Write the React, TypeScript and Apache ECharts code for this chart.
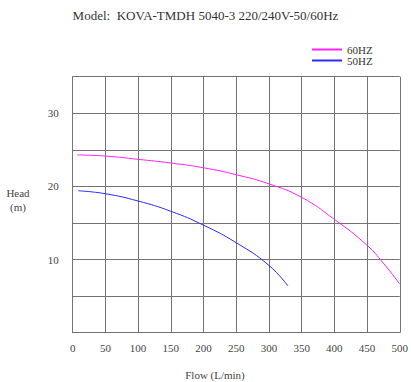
import React, { useEffect, useRef } from "react";
import * as echarts from "echarts";

const titleText = "Model:  KOVA-TMDH 5040-3 220/240V-50/60Hz";
const yAxisTitle = "Head\n(m)";
const xAxisTitle = "Flow (L/min)";
const seriesNames = ["60HZ", "50HZ"];
const flow60 = [7, 50, 100, 150, 200, 250, 300, 350, 400, 450, 475, 500];
const head60 = [24.3, 24.15, 23.7, 23.2, 22.55, 21.6, 20.35, 18.5, 15.5, 11.95, 9.5, 6.65];
const flow50 = [8.5, 50, 100, 150, 200, 250, 300, 329];
const head50 = [19.4, 19.0, 18.0, 16.6, 14.7, 12.3, 9.2, 6.4];
const yLabelsShown = [10, 20, 30];

const FONT = "'Liberation Serif', 'DejaVu Serif', serif";

export default function App() {
  const ref = useRef<HTMLDivElement>(null);
  useEffect(() => {
    if (!ref.current) return;
    const chart = echarts.init(ref.current, undefined, { renderer: "svg" });
    const gridColor = "#737373";
    const labelText = { fontFamily: FONT, fontSize: 11, fontWeight: 400, color: "#444" };
    chart.setOption({
      animation: false,
      backgroundColor: "#ffffff",
      textStyle: { fontFamily: FONT },
      title: [
        {
          text: titleText,
          left: "center",
          top: 4,
          textStyle: { fontFamily: FONT, fontSize: 13, fontWeight: 400, color: "#333" },
        },
        {
          text: yAxisTitle,
          left: 18,
          top: 186,
          textAlign: "center",
          padding: 0,
          textStyle: { ...labelText, lineHeight: 14 },
        },
        {
          text: xAxisTitle,
          left: 215,
          top: 369,
          textAlign: "center",
          padding: 0,
          textStyle: labelText,
        },
      ],
      legend: {
        orient: "vertical",
        left: 312,
        top: 44,
        itemWidth: 30,
        itemHeight: 2,
        itemGap: 0,
        icon: "rect",
        data: seriesNames,
        textStyle: { fontFamily: FONT, fontSize: 11, color: "#333", lineHeight: 11, padding: [0, 0, 0, 0] },
        padding: 0,
      },
      grid: { left: 72.7, right: 9.3, top: 76.7, bottom: 49.3 },
      xAxis: {
        type: "value",
        min: 0,
        max: 500,
        interval: 50,
        axisLine: { show: true, lineStyle: { color: gridColor, width: 1 } },
        axisTick: { show: false },
        splitLine: { show: true, lineStyle: { color: gridColor, width: 1 } },
        axisLabel: { fontFamily: FONT, fontSize: 11, color: "#444", margin: 10 },
      },
      yAxis: {
        type: "value",
        min: 0,
        max: 35,
        interval: 5,
        axisLine: { show: true, lineStyle: { color: gridColor, width: 1 } },
        axisTick: { show: false },
        splitLine: { show: true, lineStyle: { color: gridColor, width: 1 } },
        axisLabel: {
          fontFamily: FONT,
          fontSize: 11,
          color: "#444",
          margin: 14,
          formatter: (v: number) => (yLabelsShown.includes(v) ? String(v) : ""),
        },
      },
      series: [
        {
          name: seriesNames[0],
          type: "line",
          smooth: 0.5,
          showSymbol: false,
          symbol: "none",
          color: "#ff22ff",
          lineStyle: { width: 1, color: "#ff22ff" },
          data: flow60.map((f, i) => [f, head60[i]]),
        },
        {
          name: seriesNames[1],
          type: "line",
          smooth: 0.5,
          showSymbol: false,
          symbol: "none",
          color: "#2a2aff",
          lineStyle: { width: 1, color: "#2a2aff" },
          data: flow50.map((f, i) => [f, head50[i]]),
        },
      ],
    });
    return () => chart.dispose();
  }, []);
  return (
    <div
      ref={ref}
      style={{ position: "fixed", left: 0, top: 0, width: 411, height: 382 }}
    />
  );
}
